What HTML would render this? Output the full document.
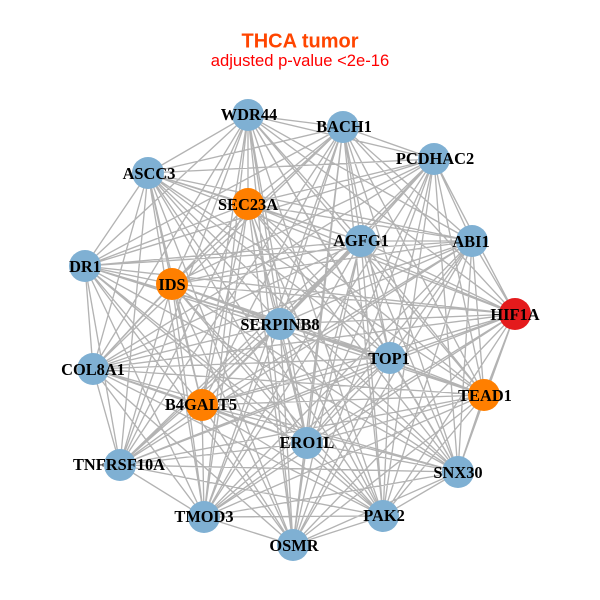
<!DOCTYPE html>
<html><head><meta charset="utf-8"><style>html,body{margin:0;padding:0;background:#fff}svg{display:block}</style></head><body>
<svg width="600" height="600" viewBox="0 0 600 600" xmlns="http://www.w3.org/2000/svg">
<rect width="600" height="600" fill="#fff"/>
<text x="300" y="47.5" text-anchor="middle" font-family="'Liberation Sans',sans-serif" font-weight="bold" font-size="20" fill="#ff4500">THCA tumor</text>
<text x="300" y="66" text-anchor="middle" font-family="'Liberation Sans',sans-serif" font-size="16.6" fill="#ff0000">adjusted p-value &lt;2e-16</text>
<path fill="none" stroke="#b3b3b3" stroke-width="1.35" d="
M248 115L343 127M248 115L434 159M248 115L472 241M248 115L515 314M248 115L484 395M248 115L458 472M248 115L383 516M248 115L293 545M248 115L204 517M248 115L120 465M248 115L93 369M248 115L85 266M248 115L148 173M248 115L361 241M248 115L248 204M248 115L172 284M248 115L202 405M248 115L307 443M248 115L390 358M248 115L280 324
M343 127L434 159M343 127L472 241M343 127L515 314M343 127L484 395M343 127L458 472M343 127L383 516M343 127L293 545M343 127L204 517M343 127L120 465M343 127L93 369M343 127L85 266M343 127L148 173M343 127L361 241M343 127L248 204M343 127L172 284M343 127L202 405M343 127L307 443M343 127L390 358M343 127L280 324
M434 159L472 241M434 159L515 314M434 159L484 395M434 159L458 472M434 159L383 516M434 159L293 545M434 159L204 517M434 159L120 465M434 159L93 369M434 159L85 266M434 159L148 173M434 159L361 241M434 159L248 204M434 159L172 284M434 159L202 405M434 159L307 443M434 159L390 358M434 159L280 324
M472 241L515 314M472 241L484 395M472 241L458 472M472 241L383 516M472 241L293 545M472 241L204 517M472 241L120 465M472 241L93 369M472 241L85 266M472 241L148 173M472 241L361 241M472 241L248 204M472 241L172 284M472 241L202 405M472 241L307 443M472 241L390 358M472 241L280 324
M515 314L484 395M515 314L458 472M515 314L383 516M515 314L293 545M515 314L204 517M515 314L120 465M515 314L93 369M515 314L85 266M515 314L148 173M515 314L361 241M515 314L248 204M515 314L172 284M515 314L202 405M515 314L307 443M515 314L390 358M515 314L280 324
M484 395L458 472M484 395L383 516M484 395L293 545M484 395L204 517M484 395L120 465M484 395L93 369M484 395L85 266M484 395L148 173M484 395L361 241M484 395L248 204M484 395L172 284M484 395L202 405M484 395L307 443M484 395L390 358M484 395L280 324
M458 472L383 516M458 472L293 545M458 472L204 517M458 472L120 465M458 472L93 369M458 472L85 266M458 472L148 173M458 472L361 241M458 472L248 204M458 472L172 284M458 472L202 405M458 472L307 443M458 472L390 358M458 472L280 324
M383 516L293 545M383 516L204 517M383 516L120 465M383 516L93 369M383 516L85 266M383 516L148 173M383 516L361 241M383 516L248 204M383 516L172 284M383 516L202 405M383 516L307 443M383 516L390 358M383 516L280 324
M293 545L204 517M293 545L93 369M293 545L85 266M293 545L148 173M293 545L361 241M293 545L248 204M293 545L172 284M293 545L202 405M293 545L307 443M293 545L390 358M293 545L280 324
M204 517L120 465M204 517L93 369M204 517L85 266M204 517L148 173M204 517L361 241M204 517L248 204M204 517L172 284M204 517L202 405M204 517L307 443M204 517L390 358M204 517L280 324
M120 465L93 369M120 465L85 266M120 465L148 173M120 465L361 241M120 465L248 204M120 465L172 284M120 465L202 405M120 465L307 443M120 465L390 358M120 465L280 324
M93 369L85 266M93 369L148 173M93 369L361 241M93 369L248 204M93 369L172 284M93 369L202 405M93 369L307 443M93 369L390 358M93 369L280 324
M85 266L148 173M85 266L361 241M85 266L248 204M85 266L172 284M85 266L202 405M85 266L307 443M85 266L390 358M85 266L280 324
M148 173L361 241M148 173L248 204M148 173L172 284M148 173L202 405M148 173L307 443M148 173L390 358M148 173L280 324
M361 241L248 204M361 241L172 284M361 241L202 405M361 241L307 443M361 241L390 358M361 241L280 324
M248 204L172 284M248 204L202 405M248 204L307 443M248 204L390 358M248 204L280 324
M172 284L202 405M172 284L307 443M172 284L390 358M172 284L280 324
M202 405L307 443M202 405L390 358M202 405L280 324
M307 443L390 358M307 443L280 324
M390 358L280 324"/>
<g fill="#7fb0d3">
<circle cx="248" cy="115" r="16"/><circle cx="343" cy="127" r="16"/><circle cx="434" cy="159" r="16"/><circle cx="472" cy="241" r="16"/><circle cx="458" cy="472" r="16"/><circle cx="383" cy="516" r="16"/><circle cx="293" cy="545" r="16"/><circle cx="204" cy="517" r="16"/><circle cx="120" cy="465" r="16"/><circle cx="93" cy="369" r="16"/><circle cx="85" cy="266" r="16"/><circle cx="148" cy="173" r="16"/><circle cx="361" cy="241" r="16"/><circle cx="307" cy="443" r="16"/><circle cx="390" cy="358" r="16"/><circle cx="280" cy="324" r="16"/>
</g>
<g fill="#ff7f00">
<circle cx="484" cy="395" r="16"/><circle cx="248" cy="204" r="16"/><circle cx="172" cy="284" r="16"/><circle cx="202" cy="405" r="16"/>
</g>
<circle cx="515" cy="314" r="16" fill="#e41a1c"/>
<g font-family="'Liberation Serif',serif" font-weight="bold" font-size="16.4" fill="#000" text-anchor="middle">
<text x="249" y="120">WDR44</text>
<text x="344" y="132">BACH1</text>
<text x="435" y="164">PCDHAC2</text>
<text x="471" y="247">ABI1</text>
<text x="515" y="320">HIF1A</text>
<text x="485" y="401">TEAD1</text>
<text x="458" y="478">SNX30</text>
<text x="384" y="521">PAK2</text>
<text x="294" y="551">OSMR</text>
<text x="204" y="522">TMOD3</text>
<text x="119" y="470">TNFRSF10A</text>
<text x="93" y="375">COL8A1</text>
<text x="85" y="272">DR1</text>
<text x="149" y="179">ASCC3</text>
<text x="361" y="246">AGFG1</text>
<text x="248" y="210">SEC23A</text>
<text x="172" y="290">IDS</text>
<text x="201" y="410">B4GALT5</text>
<text x="307" y="448">ERO1L</text>
<text x="389" y="364">TOP1</text>
<text x="280" y="330">SERPINB8</text>
</g>
</svg>
</body></html>
